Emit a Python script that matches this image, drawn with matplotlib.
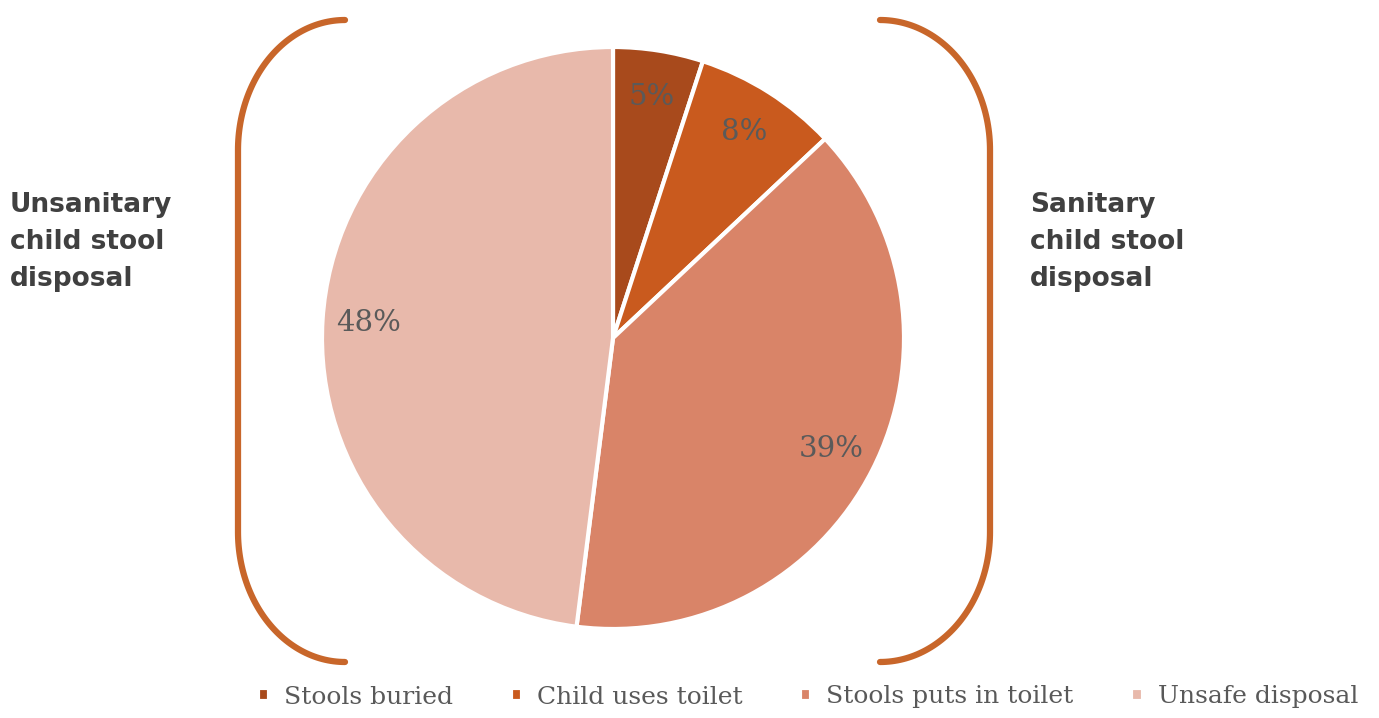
import matplotlib.pyplot as plt
import numpy as np

labels = ["Stools buried", "Child uses toilet", "Stools puts in toilet", "Unsafe disposal"]
values = [5, 8, 39, 48]
colors = ["#A84A1C", "#C95A1E", "#D98468", "#E8B9AB"]

left_text = "Unsanitary\nchild stool\ndisposal"
right_text = "Sanitary\nchild stool\ndisposal"

W, H = 1379, 718
fig = plt.figure(figsize=(W / 100, H / 100), dpi=100)
ax = fig.add_axes([0, 0, 1, 1])
ax.set_xlim(0, W)
ax.set_ylim(0, H)
ax.set_aspect("equal")
ax.axis("off")

wedges, texts, autotexts = ax.pie(
    values, colors=colors, startangle=90, counterclock=False,
    center=(613, H - 338), radius=291, autopct="%d%%", pctdistance=0.84,
    wedgeprops=dict(edgecolor="white", linewidth=3),
    textprops=dict(color="#5a5a5a", fontsize=21, family="DejaVu Serif"),
)
ax.set_xlim(0, W)
ax.set_ylim(0, H)


def bracket(x_end, x_side, y_top, y_bot, r_y):
    # quarter ellipse at top and bottom joined by a vertical line
    t = np.linspace(0, np.pi / 2, 60)
    rx = x_end - x_side
    top_x = x_end - rx * np.sin(t)
    top_y = (y_top - r_y) + r_y * np.cos(t)
    bot_x = x_end - rx * np.cos(t)
    bot_y = (y_bot + r_y) - r_y * np.sin(t)
    xs = np.concatenate([top_x, bot_x])
    ys = np.concatenate([top_y, bot_y])
    ax.plot(xs, ys, color="#C8662A", lw=4.5, solid_capstyle="round")


bracket(345, 238, H - 20, H - 662, 130)
bracket(880, 990, H - 20, H - 662, 130)

ax.text(10, H - 192, left_text, ha="left", va="top", fontsize=19,
        fontweight="bold", color="#404040", linespacing=1.55)
ax.text(1030, H - 192, right_text, ha="left", va="top", fontsize=19,
        fontweight="bold", color="#404040", linespacing=1.55)

ax.legend(wedges, labels, loc="center", bbox_to_anchor=(808 / W, (H - 697) / H),
          bbox_transform=fig.transFigure, ncol=4, frameon=False,
          prop=dict(family="DejaVu Serif", size=18), labelcolor="#595959",
          handlelength=0.45, handleheight=0.45, handletextpad=0.6, columnspacing=2.3)

fig.savefig("out.png", dpi=100)
